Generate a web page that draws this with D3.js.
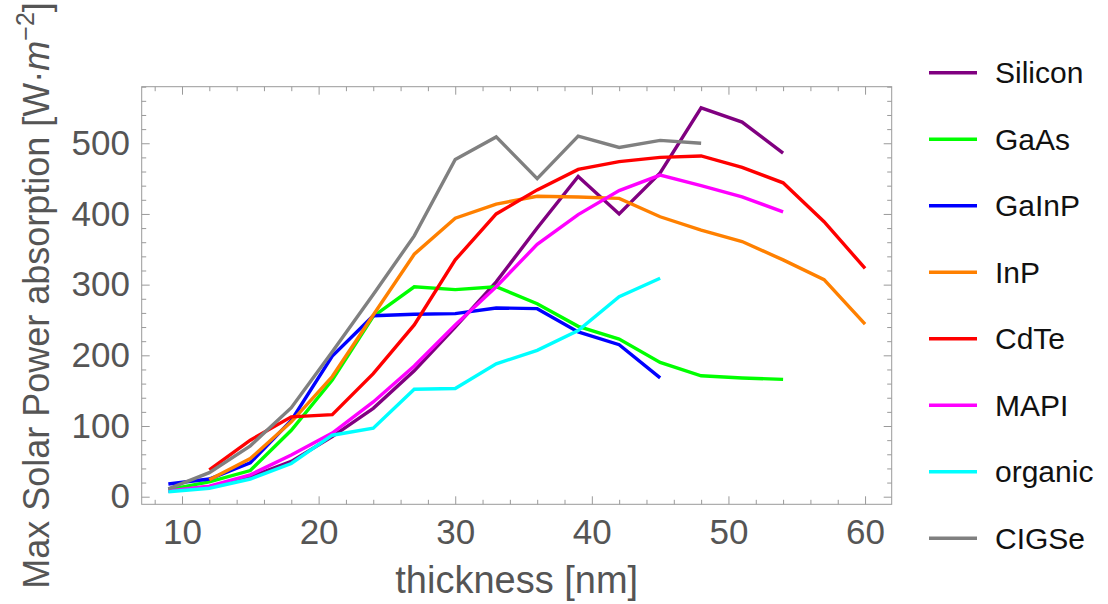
<!DOCTYPE html>
<html><head><meta charset="utf-8">
<script src="https://cdn.jsdelivr.net/npm/d3@7"></script>
<style>
body{margin:0;background:#fff}
svg{display:block}
text{font-family:"Liberation Sans",Arial,sans-serif}
</style>
</head><body><svg id="c" width="1108" height="604"></svg>
<script>
// ---- data ----
const thickness = [9,12,15,18,21,24,27,30,33,36,39,42,45,48,51,54,57,60];
const seriesNames = ["Silicon","GaAs","GaInP","InP","CdTe","MAPI","organic","CIGSe"];
const silicon = [8,14,28,50,85,125,178,240,304,380,453,400,458,550,530,486,null,null];
const gaas    = [10,21,37,94,165,255,297,293,297,273,241,223,190,171,168,166,null,null];
const gainp   = [18,25,48,108,199,256,258,259,267,266,233,215,168,null,null,null,null,null];
const inp     = [null,24,54,106,170,257,343,394,414,425,424,422,396,377,361,335,307,244];
const cdte    = [null,38,80,113,116,174,243,335,400,434,463,474,480,482,466,444,389,323];
const mapi    = [8,15,31,59,90,134,185,243,297,357,399,433,455,440,424,403,null,null];
const organic = [7,12,25,47,87,97,152,153,188,207,235,283,309,null,null,null,null,null];
const cigse   = [11,34,72,126,205,286,369,477,509,450,510,494,504,500,null,null,null,null];
const seriesValues = [silicon,gaas,gainp,inp,cdte,mapi,organic,cigse];
const colors = ["#800080","#00ff00","#0000ff","#ff8000","#ff0000","#ff00ff","#00ffff","#808080"];
const xTicks = [10,20,30,40,50,60];
const yTicks = [0,100,200,300,400,500];
const xMinor = d3.range(8,62,2).filter(v=>v%10!==0);
const yMinor = d3.range(0,581,20).filter(v=>v%100!==0);
const xTitle = "thickness [nm]";

// ---- layout ----
const L=141.7, R=891.7, T=86.7, B=504.3;
const x = d3.scaleLinear().domain([7.05,61.95]).range([L,R]);
const y = d3.scaleLinear().domain([-10.75,580]).range([B,T]);
const svg = d3.select("#c");
const tickCol = "#9a9a9a", labCol = "#555555";
const fsTick = 35;

function styleAxis(g){
  g.select(".domain").remove();
  g.selectAll(".tick line").attr("stroke",tickCol).attr("stroke-width",1);
  g.selectAll(".tick text").attr("fill",labCol).attr("font-size",fsTick).attr("font-family",'"Liberation Sans",Arial,sans-serif');
}
// major
svg.append("g").attr("transform",`translate(0,${B})`).call(d3.axisBottom(x).tickValues(xTicks).tickSize(-8).tickPadding(15).tickFormat(d3.format("d"))).call(styleAxis);
svg.append("g").attr("transform",`translate(${L},0)`).call(d3.axisLeft(y).tickValues(yTicks).tickSize(-8).tickPadding(11.7).tickFormat(d3.format("d"))).call(styleAxis);
svg.append("g").attr("transform",`translate(0,${T})`).call(d3.axisTop(x).tickValues(xTicks).tickSize(-8).tickFormat("")).call(styleAxis);
svg.append("g").attr("transform",`translate(${R},0)`).call(d3.axisRight(y).tickValues(yTicks).tickSize(-8).tickFormat("")).call(styleAxis);
// minor
svg.append("g").attr("transform",`translate(0,${B})`).call(d3.axisBottom(x).tickValues(xMinor).tickSize(-4.5).tickFormat("")).call(styleAxis);
svg.append("g").attr("transform",`translate(${L},0)`).call(d3.axisLeft(y).tickValues(yMinor).tickSize(-4.5).tickFormat("")).call(styleAxis);
svg.append("g").attr("transform",`translate(0,${T})`).call(d3.axisTop(x).tickValues(xMinor).tickSize(-4.5).tickFormat("")).call(styleAxis);
svg.append("g").attr("transform",`translate(${R},0)`).call(d3.axisRight(y).tickValues(yMinor).tickSize(-4.5).tickFormat("")).call(styleAxis);

// frame
svg.append("rect").attr("x",L).attr("y",T).attr("width",R-L).attr("height",B-T)
  .attr("fill","none").attr("stroke",tickCol).attr("stroke-width",1);

// lines
const line = d3.line().defined(d=>d[1]!==null).x(d=>x(d[0])).y(d=>y(d[1]));
seriesValues.forEach((vals,i)=>{
  const pts = thickness.map((t,j)=>[t,vals[j]]);
  svg.append("path").datum(pts).attr("d",line).attr("fill","none")
    .attr("stroke",colors[i]).attr("stroke-width",3.4).attr("stroke-linejoin","miter");
});

// axis titles
svg.append("text").attr("x",(L+R)/2).attr("y",593).attr("text-anchor","middle")
  .attr("font-size",38).attr("fill",labCol).text(xTitle);
const yt = svg.append("text").attr("transform",`translate(49,${(T+B)/2}) rotate(-90)`)
  .attr("text-anchor","middle").attr("font-size",36).attr("fill",labCol);
yt.append("tspan").text("Max Solar Power absorption [W\u00B7");
yt.append("tspan").attr("font-style","italic").text("m");
yt.append("tspan").attr("font-size",25).attr("dy",-15).text("\u22122");
yt.append("tspan").attr("dy",15).text("]");

// legend
const lg = svg.append("g");
seriesNames.forEach((n,i)=>{
  const cy = 72.7 + i*66.5;
  lg.append("line").attr("x1",929).attr("x2",977).attr("y1",cy).attr("y2",cy)
    .attr("stroke",colors[i]).attr("stroke-width",3.4);
  lg.append("text").attr("x",995).attr("y",cy+10.5).attr("font-size",30).attr("fill","#111").text(n);
});
</script>
</body></html>
